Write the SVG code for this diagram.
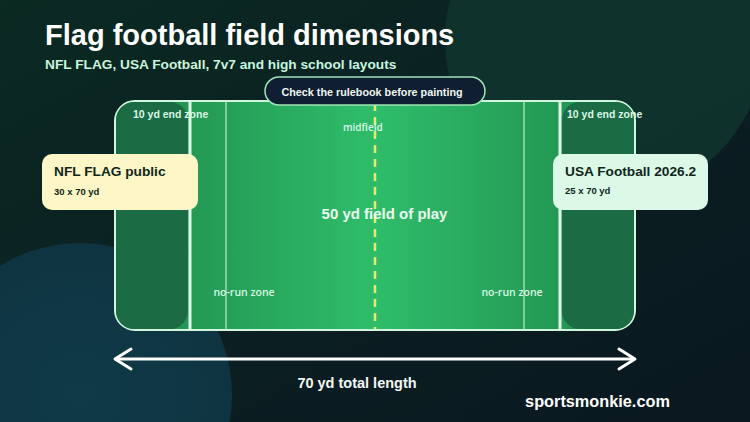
<svg xmlns="http://www.w3.org/2000/svg" width="750" height="422" viewBox="0 0 750 422">
  <defs>
    <linearGradient id="bg" x1="0" y1="0" x2="1" y2="1">
      <stop offset="0" stop-color="#0b2a22"/>
      <stop offset="0.5" stop-color="#0b1f22"/>
      <stop offset="1" stop-color="#0a1820"/>
    </linearGradient>
    <linearGradient id="field" x1="0" y1="0" x2="1" y2="0">
      <stop offset="0" stop-color="#1f8a4c"/>
      <stop offset="0.5" stop-color="#2fbd6a"/>
      <stop offset="1" stop-color="#1f8a4c"/>
    </linearGradient>
    <radialGradient id="blob" cx="0.5" cy="0.5" r="0.5">
      <stop offset="0" stop-color="#0f3a48"/>
      <stop offset="1" stop-color="#0f3441"/>
    </radialGradient>
  </defs>
  <style>
    .t { font-family: "Liberation Sans", Arial, sans-serif; font-weight: 700; }
    .o { font-family: "Open Sans", "DejaVu Sans", sans-serif; font-weight: 600; }
    .lbl { fill: #d9f7e5; font-size: 10.5px; }
    .card-title { fill: #10261c; font-size: 13.7px; }
    .card-sub { fill: #10261c; font-size: 9.5px; }
    .yard { stroke: #e3fbec; stroke-width: 3; }
    .norun { stroke: #c9f3d8; stroke-width: 1.5; opacity: 0.75; }
  </style>

  <rect width="750" height="422" fill="url(#bg)"/>
  <circle cx="605" cy="40" r="160" fill="#113b31" opacity="0.7"/>
  <circle cx="80" cy="395" r="152" fill="url(#blob)"/>

  <g id="title">
    <text class="t" x="45" y="45" font-size="29" fill="#ffffff">Flag football field dimensions</text>
    <text class="t" x="45" y="69" font-size="13.7" fill="#c9f5dd">NFL FLAG, USA Football, 7v7 and high school layouts</text>
  </g>

  <g id="field">
    <rect x="115" y="101" width="520" height="229" rx="20" fill="url(#field)" stroke="#d2f7df" stroke-width="2"/>
    <rect x="116" y="102" width="72" height="227" rx="18" fill="#1b6b45"/>
    <rect x="562" y="102" width="72" height="227" rx="18" fill="#1b6b45"/>
    <line class="yard" x1="190" y1="101" x2="190" y2="330"/>
    <line class="yard" x1="560" y1="101" x2="560" y2="330"/>
    <line class="norun" x1="226" y1="101" x2="226" y2="330"/>
    <line class="norun" x1="524" y1="101" x2="524" y2="330"/>
    <line x1="375" y1="103" x2="375" y2="329" stroke="#f3e56a" stroke-width="2.5" stroke-dasharray="8 6"/>
    <text class="t lbl" x="133" y="118">10 yd end zone</text>
    <text class="t lbl" x="567" y="118">10 yd end zone</text>
    <text class="o" x="343" y="131" font-size="10" fill="#d9f7e5">midfield</text>
    <text class="t" x="384.5" y="219" font-size="15" fill="#e9fcf0" text-anchor="middle">50 yd field of play</text>
    <text class="o" x="244" y="296" font-size="10.5" fill="#d9f7e5" text-anchor="middle">no-run zone</text>
    <text class="o" x="512" y="296" font-size="10.5" fill="#d9f7e5" text-anchor="middle">no-run zone</text>
  </g>

  <g id="rulebook-note">
    <rect x="265" y="77" width="220" height="28" rx="14" fill="#0f1e30" stroke="#9fe4b8" stroke-width="1.5"/>
    <text class="t" x="372" y="96" font-size="10.8" fill="#eef6f2" text-anchor="middle">Check the rulebook before painting</text>
  </g>

  <g id="nfl-flag-card">
    <rect x="42" y="154" width="156" height="56" rx="10" fill="#fdf6c7"/>
    <text class="t card-title" x="54" y="176">NFL FLAG public</text>
    <text class="t card-sub" x="54" y="195">30 x 70 yd</text>
  </g>

  <g id="usa-football-card">
    <rect x="553" y="154" width="155" height="56" rx="10" fill="#dcf8e7"/>
    <text class="t card-title" x="565" y="176">USA Football 2026.2</text>
    <text class="t card-sub" x="565" y="194">25 x 70 yd</text>
  </g>

  <g id="connectors">
    <line x1="116" y1="359" x2="634" y2="359" stroke="#ffffff" stroke-width="3"/>
    <polyline points="131,349 115,359 131,369" fill="none" stroke="#ffffff" stroke-width="3" stroke-linecap="round" stroke-linejoin="round"/>
    <polyline points="619,349 635,359 619,369" fill="none" stroke="#ffffff" stroke-width="3" stroke-linecap="round" stroke-linejoin="round"/>
  </g>

  <g id="labels">
    <text class="t" x="357" y="388" font-size="14.5" fill="#f2f7f5" text-anchor="middle">70 yd total length</text>
    <text class="t" x="597.5" y="407" font-size="16.3" fill="#ffffff" text-anchor="middle">sportsmonkie.com</text>
  </g>
</svg>
